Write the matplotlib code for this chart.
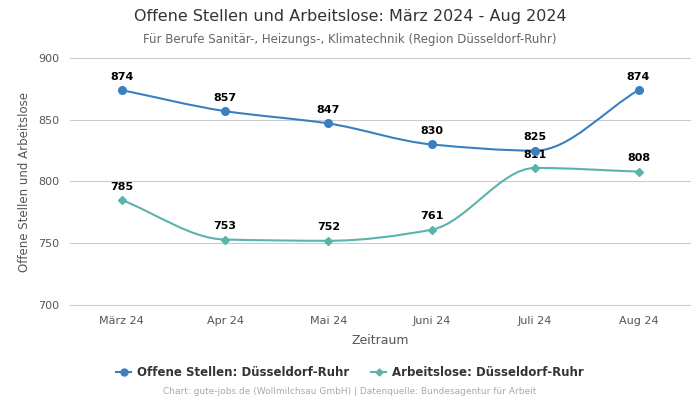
import matplotlib
matplotlib.use("Agg")
import matplotlib.pyplot as plt
import numpy as np
from matplotlib.path import Path
from matplotlib.patches import PathPatch
from matplotlib.lines import Line2D

months = ["März 24", "Apr 24", "Mai 24", "Juni 24", "Juli 24", "Aug 24"]
offene = [874, 857, 847, 830, 825, 874]
arbeitslose = [785, 753, 752, 761, 811, 808]
yticks = [700, 750, 800, 850, 900]

blue = "#3a80c0"
teal = "#5ab4ac"


def monotone_path(x, y):
    # Fritsch-Carlson tangents, drawn as cubic bezier segments
    x = np.asarray(x, float)
    y = np.asarray(y, float)
    h = np.diff(x)
    d = np.diff(y) / h
    m = np.zeros_like(y)
    m[0], m[-1] = d[0], d[-1]
    for i in range(1, len(y) - 1):
        if d[i - 1] * d[i] <= 0:
            m[i] = 0
        else:
            m[i] = 2 / (1 / d[i - 1] + 1 / d[i])
    verts = [(x[0], y[0])]
    codes = [Path.MOVETO]
    for i in range(len(x) - 1):
        verts += [(x[i] + h[i] / 3, y[i] + m[i] * h[i] / 3),
                  (x[i + 1] - h[i] / 3, y[i + 1] - m[i + 1] * h[i] / 3),
                  (x[i + 1], y[i + 1])]
        codes += [Path.CURVE4] * 3
    return Path(verts, codes)


fig = plt.figure(figsize=(7, 4), dpi=100)
ax = fig.add_axes([0.1, 0.2375, 0.886, 0.6175])

xs = np.arange(len(months))
for vals, col, mk, ms in [(offene, blue, "o", 5.5), (arbeitslose, teal, "D", 4)]:
    ax.add_patch(PathPatch(monotone_path(xs, vals), fill=False, edgecolor=col, lw=1.5, zorder=3))
    ax.plot(xs, vals, ls="none", marker=mk, ms=ms, color=col, zorder=4)
    for xi, v in zip(xs, vals):
        ax.annotate(str(v), (xi, v), xytext=(0, 6), textcoords="offset points",
                    ha="center", va="bottom", fontsize=8, fontweight="bold", color="black")

ax.set_xlim(-0.5, len(months) - 0.5)
ax.set_ylim(700, 900)
ax.set_yticks(yticks)
ax.set_xticks(xs)
ax.set_xticklabels(months)
ax.tick_params(length=0, labelsize=8, colors="#555555", pad=8)
ax.grid(axis="y", color="#cccccc", lw=0.8)
for gl in ax.get_ygridlines():
    gl.set_clip_on(False)
ax.set_axisbelow(True)
for s in ax.spines.values():
    s.set_visible(False)
ax.set_xlabel("Zeitraum", fontsize=9, color="#555555", labelpad=6)
ax.set_ylabel("Offene Stellen und Arbeitslose", fontsize=8.5, color="#555555", labelpad=5)

fig.text(0.5, 0.958, "Offene Stellen und Arbeitslose: März 2024 - Aug 2024",
         ha="center", va="center", fontsize=11.5, color="#333333")
fig.text(0.5, 0.902, "Für Berufe Sanitär-, Heizungs-, Klimatechnik (Region Düsseldorf-Ruhr)",
         ha="center", va="center", fontsize=8.5, color="#666666")

handles = [Line2D([], [], color=blue, marker="o", ms=5, lw=1.5),
           Line2D([], [], color=teal, marker="D", ms=3.5, lw=1.5)]
leg = fig.legend(handles, ["Offene Stellen: Düsseldorf-Ruhr", "Arbeitslose: Düsseldorf-Ruhr"],
                 loc="center", bbox_to_anchor=(0.5, 0.068), ncol=2, frameon=False,
                 prop={"weight": "bold", "size": 8.5}, handlelength=1.3, handletextpad=0.5,
                 columnspacing=1.8)
for t in leg.get_texts():
    t.set_color("#333333")
fig.text(0.5, 0.02, "Chart: gute-jobs.de (Wollmilchsau GmbH) | Datenquelle: Bundesagentur für Arbeit",
         ha="center", va="center", fontsize=6.5, color="#aaaaaa")

fig.savefig("out.png", dpi=100)
